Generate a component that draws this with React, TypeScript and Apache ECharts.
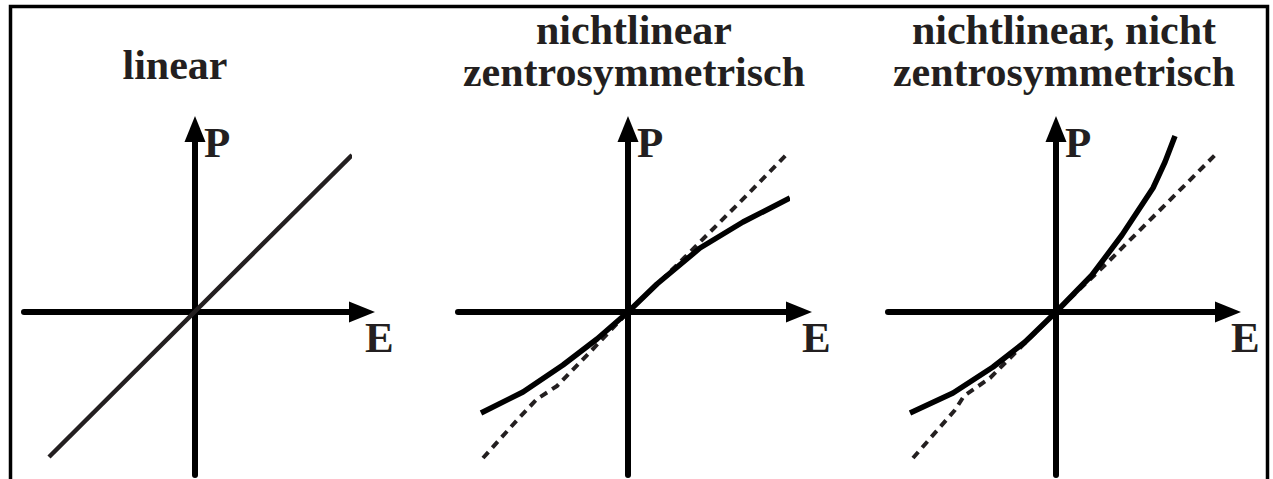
import React, { useEffect, useRef } from "react";
import * as echarts from "echarts";

// ---- data ----
const titles = [
  "linear",
  "nichtlinear\nzentrosymmetrisch",
  "nichtlinear, nicht\nzentrosymmetrisch",
];
const fieldName = "E";
const polarizationName = "P";

const linearLine = [
  [-1.46, -1.45],
  [1.57, 1.57],
];
const centroSolid = [
  [-1.47, -1.01],
  [-1.05, -0.8],
  [-0.65, -0.53],
  [-0.31, -0.27],
  [0, 0],
  [0.29, 0.28],
  [0.72, 0.64],
  [1.15, 0.9],
  [1.62, 1.14],
];
const centroDashed = [
  [-1.45, -1.46],
  [-1.09, -1.06],
  [-0.91, -0.87],
  [-0.71, -0.74],
  [-0.36, -0.38],
  [0, 0],
  [0.49, 0.47],
  [0.99, 0.97],
  [1.19, 1.17],
  [1.6, 1.59],
];
const nonCentroSolid = [
  [-1.46, -1.01],
  [-1.03, -0.81],
  [-0.63, -0.55],
  [-0.31, -0.3],
  [0, 0],
  [0.36, 0.37],
  [0.66, 0.77],
  [0.97, 1.24],
  [1.09, 1.5],
  [1.19, 1.76],
];
const nonCentroDashed = [
  [-1.43, -1.46],
  [-1.01, -0.98],
  [-0.92, -0.84],
  [-0.66, -0.66],
  [0, 0],
  [0.49, 0.47],
  [1.09, 1.07],
  [1.61, 1.59],
];

// ---- layout (pixels) ----
const UNIT = 100;
const TOP = 142;
const BOTTOM = 475;
const OY = 312;
const panels = [
  { left: 24, right: 349, ox: 195, titleX: 175, titleTop: 44 },
  { left: 458, right: 786, ox: 628, titleX: 634, titleTop: 9 },
  { left: 888, right: 1215, ox: 1056, titleX: 1064, titleTop: 9 },
];
const FONT = "'Liberation Serif', 'Times New Roman', serif";
const INK = "#231f20";

export default function App() {
  const ref = useRef<HTMLDivElement>(null);
  useEffect(() => {
    document.body.style.margin = "0";
    if (!ref.current) return;
    const chart = echarts.init(ref.current, null, { renderer: "svg" });

    const arrowSize = [21, 26];
    const axisCommon = (name: string, isX: boolean, gap: number) => ({
      type: "value",
      name,
      nameLocation: "end",
      nameGap: gap,
      nameTextStyle: isX
        ? {
            fontFamily: FONT,
            fontWeight: "bold",
            fontSize: 43,
            lineHeight: 43,
            color: INK,
            align: "left",
            verticalAlign: "top",
            padding: [4, 0, 0, 0],
          }
        : {
            fontFamily: FONT,
            fontWeight: "bold",
            fontSize: 43,
            lineHeight: 43,
            color: INK,
            align: "left",
            verticalAlign: "middle",
            padding: [0, 0, 0, 9],
          },
      axisLine: {
        show: true,
        onZero: true,
        symbol: ["none", "triangle"],
        symbolSize: arrowSize,
        symbolOffset: [0, arrowSize[1] / 2],
        lineStyle: { color: "#000", width: 6 },
      },
      axisTick: { show: false },
      axisLabel: { show: false },
      splitLine: { show: false },
    });

    const grids = panels.map((p) => ({
      left: p.left,
      top: TOP,
      width: p.right - p.left,
      height: BOTTOM - TOP,
      outerBoundsMode: "none",
      containLabel: false,
    }));
    const xAxes = panels.map((p, i) => ({
      ...axisCommon(fieldName, true, 16),
      gridIndex: i,
      min: (p.left - p.ox) / UNIT,
      max: (p.right - p.ox) / UNIT,
    }));
    const yAxes = panels.map((p, i) => ({
      ...axisCommon(polarizationName, false, 0),
      gridIndex: i,
      min: -(BOTTOM - OY) / UNIT,
      max: (OY - TOP) / UNIT,
    }));

    const lineSeries = (data: number[][], idx: number, color: string, width: number, dashed: boolean) => ({
      type: "line",
      xAxisIndex: idx,
      yAxisIndex: idx,
      data,
      symbol: "none",
      showSymbol: false,
      clip: false,
      z: 3,
      lineStyle: dashed
        ? { color, width, type: [8, 6], cap: "butt" }
        : { color, width, type: "solid", join: "bevel" },
    });

    chart.setOption({
      animation: false,
      backgroundColor: "#fff",
      title: panels.map((p, i) => ({
        text: titles[i],
        left: p.titleX,
        top: p.titleTop,
        textAlign: "center",
        padding: 0,
        textStyle: {
          fontFamily: FONT,
          fontWeight: "bold",
          fontSize: 42,
          lineHeight: 42,
          color: INK,
        },
      })),
      grid: grids,
      xAxis: xAxes,
      yAxis: yAxes,
      series: [
        lineSeries(linearLine, 0, INK, 4.5, false),
        lineSeries(centroDashed, 1, INK, 4, true),
        lineSeries(centroSolid, 1, "#000", 5.5, false),
        lineSeries(nonCentroDashed, 2, INK, 4, true),
        lineSeries(nonCentroSolid, 2, "#000", 5.5, false),
      ],
      graphic: [
        {
          type: "rect",
          silent: true,
          shape: { x: 10.5, y: 6.5, width: 1257, height: 600 },
          style: { fill: "none", stroke: "#000", lineWidth: 3.5 },
        },
      ],
    });
    return () => chart.dispose();
  }, []);
  return <div ref={ref} style={{ width: 1273, height: 479 }} />;
}
